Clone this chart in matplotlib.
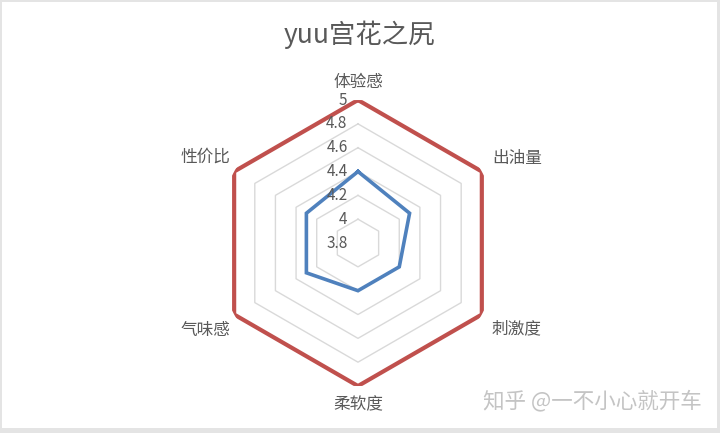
import numpy as np
import matplotlib
matplotlib.use("Agg")
from matplotlib import pyplot as plt
from matplotlib.patches import Rectangle

plt.rcParams['font.family'] = ['Noto Sans CJK SC', 'DejaVu Sans']

title = "yuu宫花之尻"
categories = ["体验感", "出油量", "刺激度", "柔软度", "气味感", "性价比"]
score = [4.4, 4.3, 4.2, 4.2, 4.3, 4.3]
full_score = [5, 5, 5, 5, 5, 5]
ring_levels = [3.8, 4.0, 4.2, 4.4, 4.6, 4.8, 5.0]
watermark = "知乎 @一不小心就开车"

text_gray = "#595959"
grid_gray = "#D9D9D9"
red = "#C0504D"
blue = "#4F81BD"

fig = plt.figure(figsize=(7.2, 4.33), dpi=100)
fig.patch.set_facecolor("#E4E4E4")
fig.patches.append(Rectangle((2 / 720, 5 / 433), 715 / 720, 426 / 433,
                             transform=fig.transFigure, facecolor="white",
                             edgecolor="none", zorder=-1))

ax = fig.add_axes([0.2986, 0.1085, 0.3972, 0.6605], projection="polar")
ax.set_zorder(1)
ax.set_facecolor("none")
ax.set_theta_offset(np.pi / 2)
ax.set_theta_direction(-1)
ax.set_ylim(ring_levels[0], ring_levels[-1])
ax.grid(False)
ax.spines["polar"].set_visible(False)
ax.set_xticks([])
ax.set_yticks([])

n = len(categories)
angles = np.linspace(0, 2 * np.pi, n, endpoint=False)
closed = np.append(angles, angles[0])

# hexagon grid
for lvl in ring_levels[1:]:
    ax.plot(closed, [lvl] * (n + 1), color=grid_gray, lw=1, zorder=1)

ax.plot(closed, full_score + full_score[:1], color=red, lw=3, zorder=3,
        solid_joinstyle="miter")
ax.plot(closed, score + score[:1], color=blue, lw=2.6, zorder=4,
        solid_joinstyle="miter")

# radial labels
for lvl in ring_levels:
    ax.annotate("{:g}".format(lvl), xy=(0, lvl), xytext=(-7.5, 0),
                textcoords="offset points", ha="right", va="center",
                fontsize=11, color=text_gray, zorder=5)

# category labels (offsets in points from the outer vertex)
offsets = [(0, 12.7, "center"), (7.4, 9.7, "left"), (6.7, -10.4, "left"),
           (0, -13.7, "center"), (-2.9, -11.2, "right"), (-2.9, 10.4, "right")]
for ang, lab, (dx, dy, ha) in zip(angles, categories, offsets):
    ax.annotate(lab, xy=(ang, ring_levels[-1]), xytext=(dx, dy),
                textcoords="offset points", ha=ha, va="center",
                fontsize=12, color=text_gray, annotation_clip=False)

fig.text(359 / 720, 1 - 35 / 433, title, ha="center", va="center",
         fontsize=19, color=text_gray)
fig.text(483 / 720, 1 - 401 / 433, watermark, ha="left", va="center",
         fontsize=15.5, color="#C4C4C4")

fig.savefig("out.png", dpi=100, facecolor=fig.get_facecolor())
